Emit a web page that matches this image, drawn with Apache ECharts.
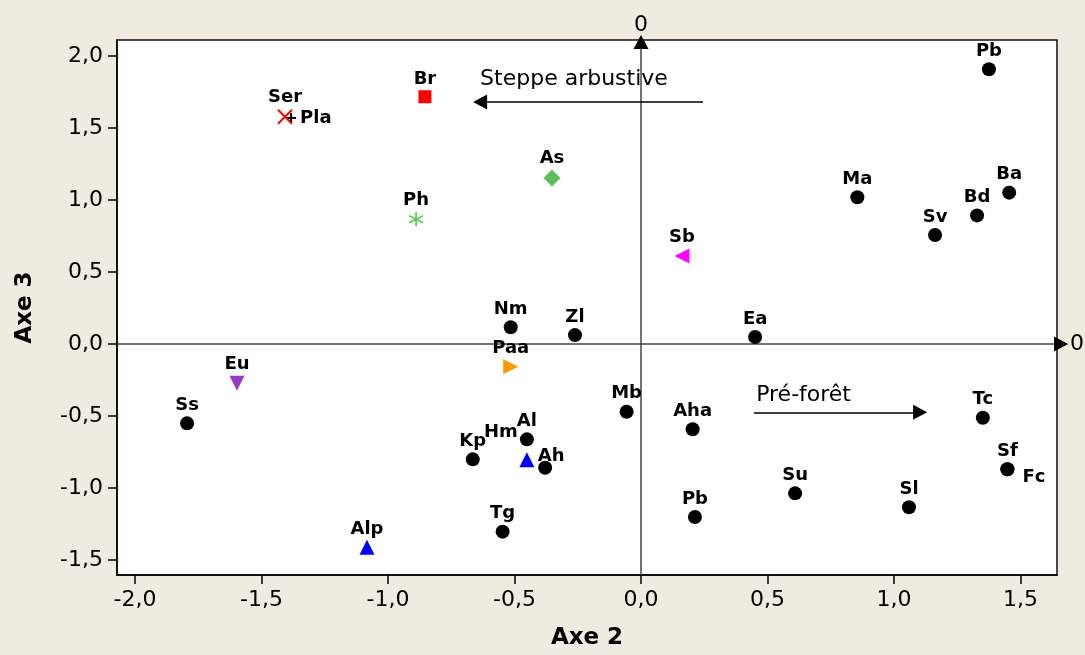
<!DOCTYPE html>
<html><head><meta charset="utf-8">
<script src="https://cdn.jsdelivr.net/npm/echarts@6/dist/echarts.min.js"></script>
<style>html,body{margin:0;padding:0;background:#efebe1}#c{width:1085px;height:655px}</style>
</head><body><div id="c"></div>
<script>
// ---- data ----
const xTicks = [-2.0, -1.5, -1.0, -0.5, 0.0, 0.5, 1.0, 1.5];
const yTicks = [-1.5, -1.0, -0.5, 0.0, 0.5, 1.0, 1.5, 2.0];
const xRange = [-2.071, 1.644];
const yRange = [-1.604, 2.111];

// black circles
const circleNames = ['Pb','Ma','Ba','Bd','Sv','Nm','Zl','Ea','Ss','Mb','Aha','Al','Kp','Ah','Tg','Pb','Su','Sl','Tc','Sf','Fc'];
const circleX = [1.375,0.855,1.455,1.328,1.162,-0.515,-0.261,0.451,-1.794,-0.057,0.204,-0.451,-0.665,-0.379,-0.547,0.213,0.609,1.059,1.351,1.448,1.448];
const circleY = [1.908,1.019,1.051,0.893,0.757,0.116,0.062,0.049,-0.551,-0.470,-0.592,-0.662,-0.801,-0.859,-1.303,-1.201,-1.037,-1.134,-0.512,-0.870,-0.870];

// other species groups
const plaPt = { names: ['Pla'], x: [-1.383], y: [1.569] };
const serPt = { names: ['Ser'], x: [-1.407], y: [1.578] };
const brPt  = { names: ['Br'],  x: [-0.854], y: [1.717] };
const phPt  = { names: ['Ph'],  x: [-0.889], y: [0.866] };
const asPt  = { names: ['As'],  x: [-0.352], y: [1.153] };
const sbPt  = { names: ['Sb'],  x: [0.162],  y: [0.611] };
const paaPt = { names: ['Paa'], x: [-0.515], y: [-0.158] };
const euPt  = { names: ['Eu'],  x: [-1.597], y: [-0.273] };
const bluePt = { names: ['Hm','Alp'], x: [-0.451,-1.083], y: [-0.803,-1.412] };

// annotations
const annoText = ['Steppe arbustive', 'Pré-forêt'];
const annoX = [-0.636, 0.455];
const annoY = [1.840, -0.354];
const steppeArrow = [[0.245, 1.681], [-0.636, 1.681]];
const foretArrow = [[0.447, -0.474], [1.103, -0.474]];
const xZeroLine = [[-2.071, 0], [1.660, 0]];
const yZeroLine = [[0, -1.604], [0, 2.097]];

// ---- style ----
const FONT = 'DejaVu Sans';
const labelCfg = {
  Fc: { position: 'right', distance: 8, offset: [0, 8] },
  Pla: { position: 'right', distance: 3 },
  Hm: { offset: [-26, -9] },
  Ah: { offset: [6, 7] }
};
const fmt = v => v.toFixed(1).replace('.', ',');

function items(names, xs, ys) {
  return names.map((n, i) => {
    const it = { name: n, value: [xs[i], ys[i]] };
    if (labelCfg[n]) it.label = labelCfg[n];
    return it;
  });
}
const baseLabel = { show: true, position: 'top', distance: 2, formatter: '{b}', color: '#000',
  fontFamily: FONT, fontWeight: 'bold', fontSize: 18 };

function scatter(g, symbol, size, itemStyle, extra) {
  return Object.assign({
    type: 'scatter', z: 3, data: items(g.names, g.x, g.y), symbol: symbol, symbolSize: size,
    itemStyle: Object.assign({ opacity: 1 }, itemStyle), label: baseLabel, silent: true
  }, extra || {});
}

function zeroAxis(pts, rot, labelPos) {
  return {
    type: 'line', z: 1, clip: false, silent: true, showSymbol: true,
    lineStyle: { color: '#444', width: 1.5 },
    itemStyle: { color: '#000', opacity: 1 },
    data: [
      { value: pts[0], symbol: 'none' },
      { value: pts[1], symbol: 'triangle', symbolSize: [15, 14], symbolRotate: rot,
        label: { show: true, position: labelPos, distance: labelPos === 'top' ? -1 : 2, formatter: '0',
          color: '#000', fontSize: 22, fontFamily: FONT } }
    ]
  };
}

const chart = echarts.init(document.getElementById('c'));
const axisCommon = {
  type: 'value', splitLine: { show: false },
  axisLine: { show: true, onZero: false, lineStyle: { color: '#000', width: 1.5 } },
  nameLocation: 'middle',
  nameTextStyle: { fontFamily: FONT, fontWeight: 'bold', fontSize: 23, color: '#000' }
};
chart.setOption({
  animation: false,
  backgroundColor: '#efebe1',
  textStyle: { fontFamily: FONT },
  grid: { left: 117, right: 28, top: 40, bottom: 80, show: true, backgroundColor: '#fff',
    borderColor: '#111', borderWidth: 1.5 },
  xAxis: Object.assign({}, axisCommon, {
    min: xRange[0], max: xRange[1], name: 'Axe 2', nameGap: 52,
    axisTick: { show: true, length: 9, customValues: xTicks, lineStyle: { color: '#000', width: 1.5 } },
    axisLabel: { customValues: xTicks, formatter: fmt, fontSize: 22, color: '#000', margin: 14, fontFamily: FONT }
  }),
  yAxis: Object.assign({}, axisCommon, {
    min: yRange[0], max: yRange[1], name: 'Axe 3', nameGap: 80,
    axisTick: { show: true, length: 9, customValues: yTicks, lineStyle: { color: '#000', width: 1.5 } },
    axisLabel: { customValues: yTicks, formatter: fmt, fontSize: 22, color: '#000', margin: 14, fontFamily: FONT }
  }),
  series: [
    zeroAxis(xZeroLine, -90, 'right'),
    zeroAxis(yZeroLine, 0, 'top'),
    {
      type: 'line', data: [], z: 1, clip: false, silent: true,
      markLine: {
        silent: true, animation: false, symbol: ['none', 'triangle'], symbolSize: [15, 14],
        label: { show: false },
        lineStyle: { color: '#000', width: 1.5, type: 'solid' },
        data: [
          [{ coord: steppeArrow[0] }, { coord: steppeArrow[1] }],
          [{ coord: foretArrow[0] }, { coord: foretArrow[1] }]
        ]
      }
    },
    {
      type: 'scatter', z: 2, silent: true, symbolSize: 0, itemStyle: { opacity: 1 },
      data: annoText.map((t, i) => ({ name: t, value: [annoX[i], annoY[i]] })),
      label: { show: true, position: 'right', distance: 0, formatter: '{b}', color: '#000', fontSize: 22, fontFamily: FONT }
    },
    { type: 'scatter', z: 3, silent: true, symbol: 'circle', symbolSize: 14, itemStyle: { color: '#000', opacity: 1 },
      data: items(circleNames, circleX, circleY), label: baseLabel },
    scatter(plaPt, 'path://M5,0L5,10M0,5L10,5', 10, { color: '#000', borderColor: '#000', borderWidth: 2 }),
    scatter(serPt, 'path://M0,0L10,10M10,0L0,10', 14, { color: '#f00', borderColor: '#f00', borderWidth: 2 }),
    scatter(brPt, 'rect', 13, { color: '#f00' }),
    scatter(phPt, 'path://M5,0L5,10M0.67,2.5L9.33,7.5M0.67,7.5L9.33,2.5', 14, { color: '#5fc95f', borderColor: '#5fc95f', borderWidth: 1.8 }),
    scatter(asPt, 'diamond', 17, { color: '#5cbf5c' }),
    scatter(sbPt, 'triangle', 15, { color: '#ff00ff' }, { symbolRotate: 90 }),
    scatter(paaPt, 'triangle', 15, { color: '#ff9a00' }, { symbolRotate: -90 }),
    scatter(euPt, 'triangle', 15, { color: '#9a3bc6' }, { symbolRotate: 180 }),
    scatter(bluePt, 'triangle', 15, { color: '#0000ff' })
  ]
});
</script></body></html>
